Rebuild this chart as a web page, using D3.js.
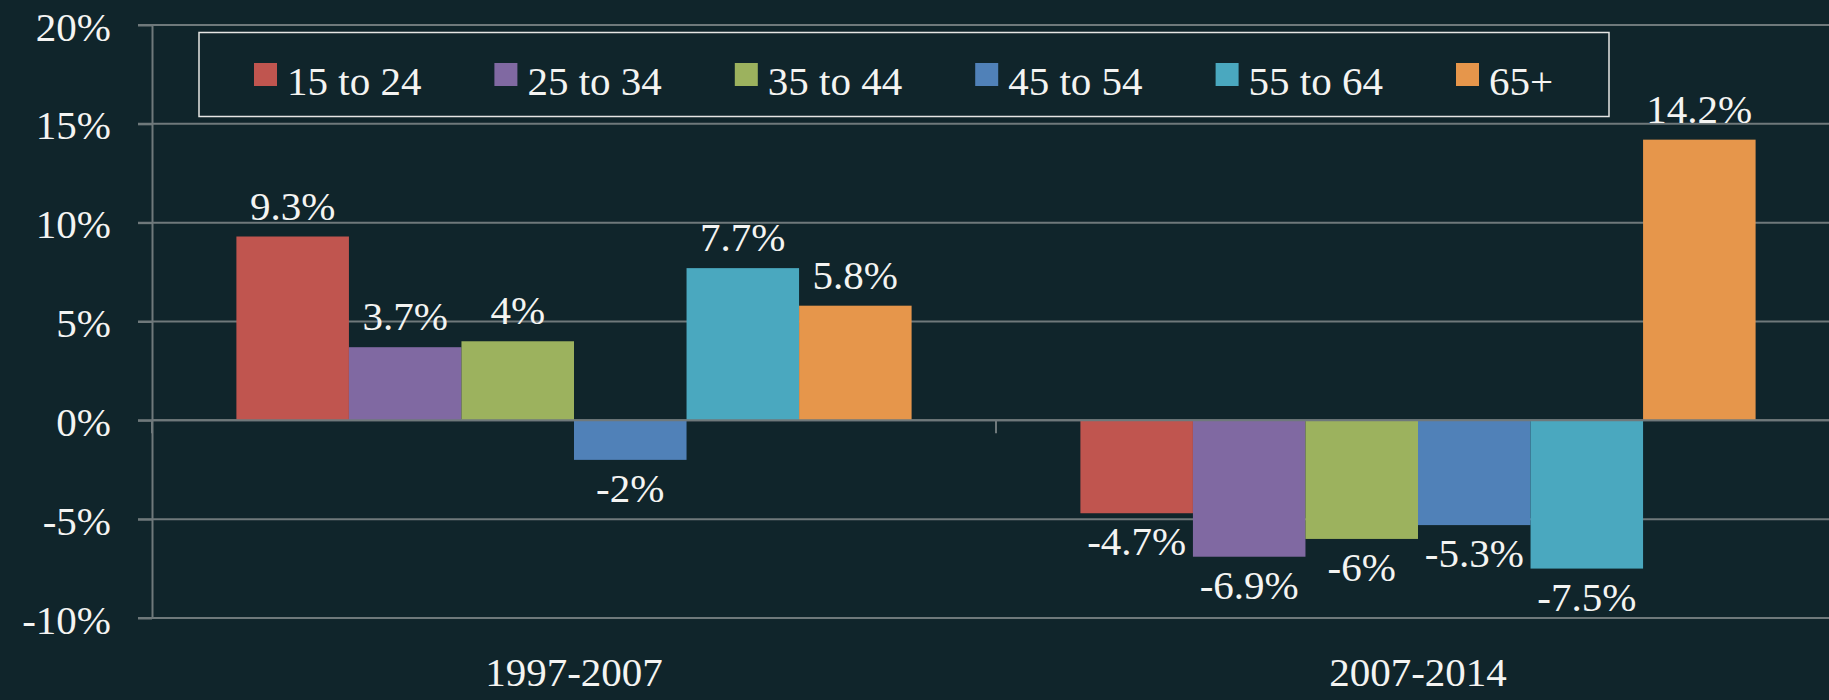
<!DOCTYPE html>
<html>
<head>
<meta charset="utf-8">
<script src="https://cdn.jsdelivr.net/npm/d3@7"></script>
<style>
  html, body { margin: 0; padding: 0; background: #10252b; }
  svg { display: block; }
  text { font-family: "Liberation Serif", "DejaVu Serif", serif; fill: #f4f4f2; }
</style>
</head>
<body>
<svg id="chart" width="1829" height="700"></svg>
<script>
// ---- data ----
const categories = ["1997-2007", "2007-2014"];
const series = ["15 to 24", "25 to 34", "35 to 44", "45 to 54", "55 to 64", "65+"];
const values1997 = [9.3, 3.7, 4, -2, 7.7, 5.8];
const values2007 = [-4.7, -6.9, -6, -5.3, -7.5, 14.2];
const yTicks = [-10, -5, 0, 5, 10, 15, 20];
const colors = ["#c0554f", "#8069a2", "#9cb25e", "#5081b8", "#4aa8bf", "#e6964b"];

(function () {
const table = categories.map((c, i) => ({
  cat: c,
  vals: (i === 0 ? values1997 : values2007).map((v, j) => ({ s: series[j], v: v, i: j }))
}));

// ---- layout ----
const W = 1829, H = 700;
const plotLeft = 152, plotRight = 1840, plotTop = 25, plotBottom = 618;
const fontSize = 41;

const svg = d3.select("#chart");
svg.append("rect").attr("width", W).attr("height", H).attr("fill", "#10252b");

const y = d3.scaleLinear().domain([-10, 20]).range([plotBottom, plotTop]);
const x0 = d3.scaleBand().domain(categories).range([plotLeft, plotRight]).paddingInner(0.2).paddingOuter(0.1);
const x1 = d3.scaleBand().domain(series).range([0, x0.bandwidth()]);
const color = d3.scaleOrdinal().domain(series).range(colors);

const gridColor = "#6f797b";

// gridlines
svg.append("g").selectAll("line").data(yTicks).join("line")
  .attr("x1", plotLeft - 14).attr("x2", W)
  .attr("y1", d => y(d)).attr("y2", d => y(d))
  .attr("stroke", gridColor).attr("stroke-width", 2);

// y axis
const yAxis = d3.axisLeft(y).tickValues(yTicks).tickSize(14).tickSizeOuter(0)
  .tickPadding(27).tickFormat(d => d + "%");
const gy = svg.append("g").attr("transform", `translate(${plotLeft},0)`).call(yAxis);
gy.select(".domain").attr("stroke", gridColor).attr("stroke-width", 2);
gy.selectAll(".tick line").attr("stroke", gridColor).attr("stroke-width", 2);
gy.selectAll(".tick text")
  .attr("font-size", fontSize)
  .attr("font-family", "Liberation Serif, serif")
  .attr("fill", "#f4f4f2")
  .attr("dy", null)
  .attr("y", 15);

// bars
const groups = svg.append("g").selectAll("g").data(table).join("g")
  .attr("transform", d => `translate(${x0(d.cat)},0)`);

groups.selectAll("rect").data(d => d.vals).join("rect")
  .attr("x", d => x1(d.s))
  .attr("width", x1.bandwidth())
  .attr("y", d => y(Math.max(0, d.v)))
  .attr("height", d => Math.abs(y(d.v) - y(0)))
  .attr("fill", d => color(d.s));

// zero line on top & category ticks
svg.append("line").attr("x1", plotLeft).attr("x2", W).attr("y1", y(0)).attr("y2", y(0))
  .attr("stroke", gridColor).attr("stroke-width", 2);
const boundaries = [x0.range()[0], x0(categories[1]) - x0.step() * x0.paddingInner() / 2];
svg.append("g").selectAll("line").data(boundaries).join("line")
  .attr("x1", d => d).attr("x2", d => d)
  .attr("y1", y(0)).attr("y2", y(0) + 13)
  .attr("stroke", gridColor).attr("stroke-width", 2);

// value labels
groups.selectAll("text.val").data(d => d.vals).join("text")
  .attr("class", "val")
  .attr("x", d => x1(d.s) + x1.bandwidth() / 2)
  .attr("y", d => d.v >= 0 ? y(d.v) - 17 : y(d.v) + 42)
  .attr("text-anchor", "middle")
  .attr("font-size", fontSize)
  .text(d => d.v + "%");

// category labels
svg.append("g").selectAll("text").data(categories).join("text")
  .attr("x", d => x0(d) + x0.bandwidth() / 2)
  .attr("y", 686)
  .attr("text-anchor", "middle")
  .attr("font-size", fontSize)
  .text(d => d);

// legend
const legend = svg.append("g");
legend.append("rect")
  .attr("x", 199).attr("y", 32.5).attr("width", 1410).attr("height", 84)
  .attr("fill", "none").attr("stroke", "#e6e6e4").attr("stroke-width", 1.5);
const items = legend.selectAll("g").data(series).join("g")
  .attr("transform", (d, i) => `translate(${254 + i * 240.4},0)`);
items.append("rect").attr("x", 0).attr("y", 63).attr("width", 23).attr("height", 23)
  .attr("fill", d => color(d));
items.append("text").attr("x", 33).attr("y", 95).attr("font-size", fontSize).text(d => d);
})();
</script>
</body>
</html>
